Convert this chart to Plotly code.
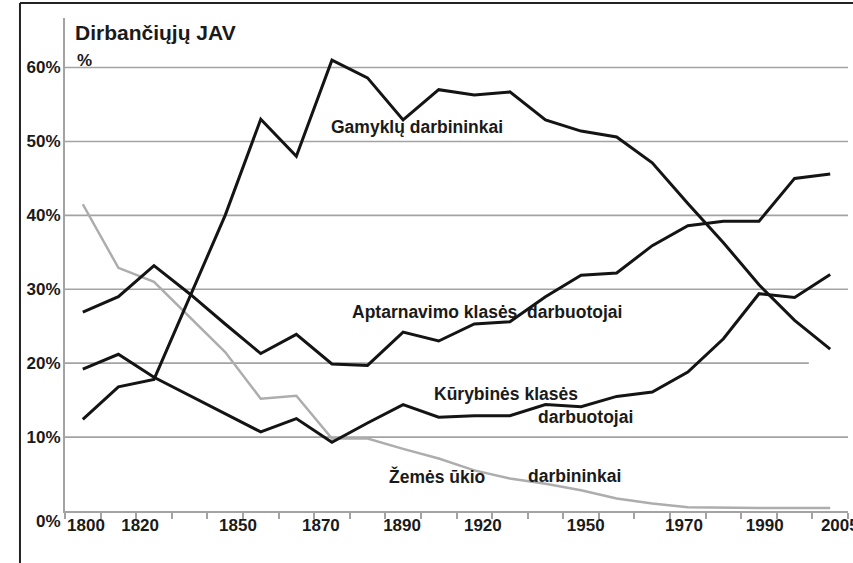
import plotly.graph_objects as go

# ---- data (percent of US workforce) ----
tick_labels = ["1800", "1820", "1850", "1870", "1890", "1920", "1950", "1970", "1990", "2005"]
tick_label_pos = [0.09, 1.61, 4.36, 6.69, 8.97, 11.24, 14.13, 16.89, 19.16, 21.27]

service = [26.9, 29.0, 33.2, 29.4, 25.3, 21.3, 23.9, 19.9, 19.7, 24.2, 23.0,
           25.3, 25.6, 29.0, 31.9, 32.2, 35.9, 38.6, 39.2, 39.2, 45.0, 45.6]
factory = [12.4, 16.8, 17.8, 28.9, 40.0, 53.0, 48.0, 61.0, 58.6, 52.9, 57.0,
           56.3, 56.7, 52.9, 51.4, 50.6, 47.1, 41.6, 36.3, 30.6, 25.8, 21.9]
creative = [19.2, 21.2, 18.1, 15.6, 13.2, 10.7, 12.5, 9.3, 11.9, 14.4, 12.7,
            12.9, 12.9, 14.4, 14.1, 15.5, 16.1, 18.8, 23.3, 29.4, 28.9, 32.0]
agriculture = [41.5, 32.9, 31.0, 26.3, 21.5, 15.2, 15.6, 9.8, 9.8, 8.4, 7.1,
               5.5, 4.4, 3.7, 2.8, 1.7, 1.0, 0.5, 0.4, 0.4, 0.4, 0.4]

y_ticks = [10, 20, 30, 40, 50, 60]
y_tick_text = ["10%", "20%", "30%", "40%", "50%", "60%"]

points = list(range(len(service)))

FONT = "Liberation Sans, Arial, sans-serif"
TXT = "#1a1a1a"
GRID = "#a3a3a3"

fig = go.Figure()

fig.add_trace(go.Scatter(x=points, y=agriculture, mode="lines",
                         line=dict(color="#adadad", width=2.5), hoverinfo="skip"))
for s in (service, factory, creative):
    fig.add_trace(go.Scatter(x=points, y=s, mode="lines",
                             line=dict(color="#141414", width=3), hoverinfo="skip"))
# invisible trace to carry the label axis
fig.add_trace(go.Scatter(x=[points[0]], y=[0], xaxis="x2", mode="markers",
                         marker=dict(opacity=0), hoverinfo="skip", showlegend=False))

# gridlines
shapes = []
for v in y_ticks:
    x_end = 20.4 if v == 20 else 21.5
    shapes.append(dict(type="line", xref="x", yref="y", x0=-0.5, x1=x_end, y0=v, y1=v,
                       line=dict(color=GRID, width=1.6), layer="below"))
# photo frame
shapes.append(dict(type="line", xref="paper", yref="paper", x0=-0.0575, x1=1.2,
                   y0=1.0305, y1=1.0305, line=dict(color="#222", width=2)))
shapes.append(dict(type="line", xref="paper", yref="paper", x0=-0.0575, x1=-0.0575,
                   y0=-0.2, y1=1.0305, line=dict(color="#222", width=2)))

ann = []
def label(text, x_px, y_px, size=17.5):
    ann.append(dict(text=text, xref="x", yref="y",
                    x=(x_px - 65) / 35.6 - 0.5, y=(510.6 - y_px) / 7.39,
                    xanchor="left", yanchor="middle", showarrow=False,
                    font=dict(family=FONT, size=size, color=TXT, weight="bold")))

label("Dirbančiųjų JAV", 73, 32.5, 21)
label("%", 75, 60, 17)
label("Gamyklų darbininkai", 329, 127)
label("Aptarnavimo klasės\u00a0\u00a0darbuotojai", 350, 312)
label("Kūrybinės klasės", 432, 393.5)
label("darbuotojai", 536, 417)
label("Žemės ūkio", 387, 476.5)
label("darbininkai", 526, 476)
ann.append(dict(text="0%", xref="paper", yref="y", x=0, y=0, xanchor="right",
                yanchor="middle", xshift=-2, yshift=-10, showarrow=False,
                font=dict(family=FONT, size=17, color=TXT, weight="bold")))

fig.update_layout(
    width=853, height=563,
    margin=dict(l=65, r=5, t=18, b=52.4, autoexpand=False),
    paper_bgcolor="white", plot_bgcolor="white",
    showlegend=False,
    shapes=shapes, annotations=ann,
    xaxis=dict(range=[-0.5, 21.5], tickvals=[k - 0.5 for k in range(23)],
               showticklabels=False, ticks="outside", ticklen=6, tickwidth=1.5,
               tickcolor=GRID, showline=True, linecolor=GRID, linewidth=2,
               showgrid=False, zeroline=False, fixedrange=True, automargin=False),
    xaxis2=dict(range=[-0.5, 21.5], overlaying="x", anchor="y", side="bottom",
                tickvals=tick_label_pos, ticktext=tick_labels, ticks="",
                showline=False, showgrid=False, zeroline=False, automargin=False,
                ticklabeloverflow="allow", ticklabelstandoff=2,
                tickfont=dict(family=FONT, size=17, color=TXT, weight="bold")),
    yaxis=dict(range=[0, 66.7], tickvals=y_ticks, ticktext=y_tick_text,
               showgrid=False, zeroline=False, showline=True, linecolor=GRID,
               linewidth=2, ticks="", ticklabelstandoff=-1, automargin=False,
               tickfont=dict(family=FONT, size=17, color=TXT, weight="bold")),
)

fig.write_html("out.html", config={"displayModeBar": False},
               post_script="document.body.style.margin='0';document.body.style.overflow='hidden';")
